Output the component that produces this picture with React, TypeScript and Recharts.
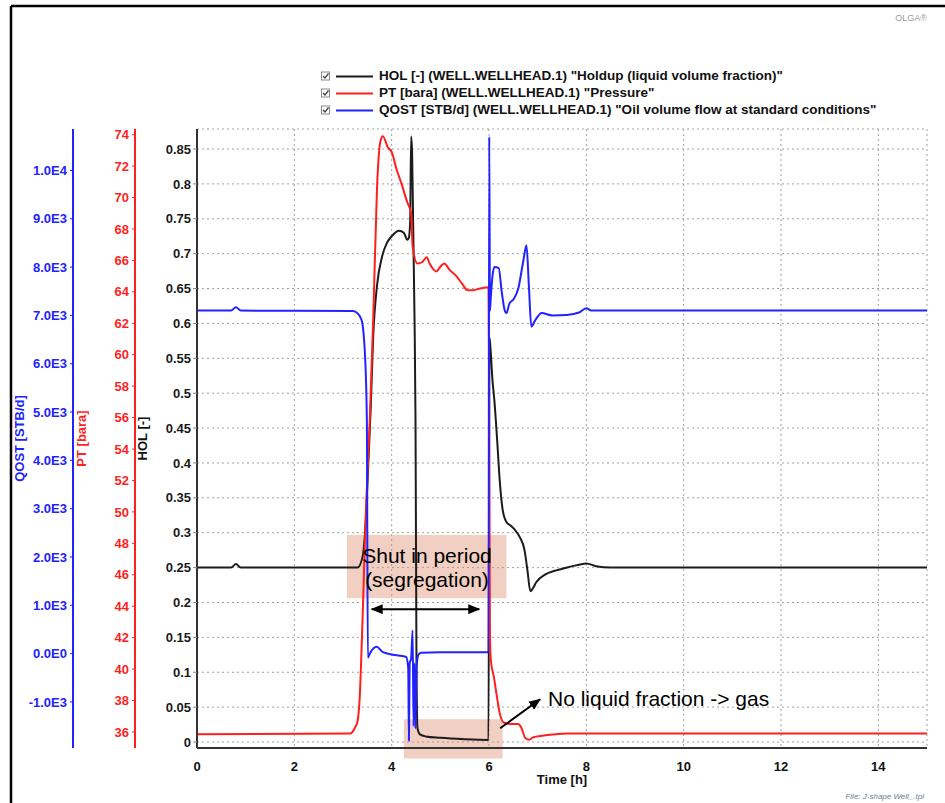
import React from "react";
import {
  ComposedChart, Line, XAxis, YAxis, CartesianGrid, ReferenceArea, ReferenceLine, Legend,
} from "recharts";

const FONT = "'Liberation Sans', Arial, Helvetica, sans-serif";

// time axis [h]
const timeTicks = [0, 2, 4, 6, 8, 10, 12, 14];

// HOL [-] holdup
const holTime = [
  0, 0.7, 0.8, 0.9, 3.3, 3.4, 3.47, 3.52, 3.57, 3.62, 3.7, 3.8, 3.9, 4.0, 4.15, 4.25, 4.32, 4.35,
  4.38, 4.4, 4.42, 4.44, 4.47, 4.49, 4.51, 4.53, 4.58, 4.7, 5.0, 5.5, 5.99, 6.01, 6.03, 6.07, 6.11,
  6.17, 6.22, 6.28, 6.36, 6.45, 6.52, 6.63, 6.73, 6.79, 6.85, 6.9, 6.97, 7.15, 7.38, 7.65, 7.85,
  8.0, 8.2, 8.5, 10, 12, 15,
];
const holValues = [
  0.25, 0.25, 0.255, 0.25, 0.25, 0.265, 0.32, 0.4, 0.48, 0.58, 0.655, 0.695, 0.715, 0.725, 0.733,
  0.73, 0.72, 0.722, 0.745, 0.868, 0.845, 0.749, 0.605, 0.461, 0.113, 0.02, 0.011, 0.008, 0.006,
  0.004, 0.003, 0.58, 0.565, 0.52, 0.49, 0.43, 0.375, 0.333, 0.315, 0.31, 0.305, 0.294, 0.275,
  0.246, 0.216, 0.22, 0.229, 0.24, 0.246, 0.251, 0.254, 0.256, 0.252, 0.25, 0.25, 0.25, 0.25,
];

// PT [bara] pressure
const ptTime = [
  0, 3.15, 3.25, 3.3, 3.34, 3.4, 3.47, 3.55, 3.62, 3.7, 3.77, 3.82, 3.92, 4.0, 4.1, 4.2, 4.32, 4.4,
  4.43, 4.53, 4.63, 4.72, 4.78, 4.92, 5.0, 5.08, 5.19, 5.33, 5.45, 5.56, 5.66, 5.8, 5.99, 6.0, 6.02,
  6.04, 6.1, 6.15, 6.22, 6.3, 6.45, 6.6, 6.66, 6.75, 6.83, 6.9, 7.2, 7.6, 10, 15,
];
const ptValues = [
  35.85, 35.9, 36.3, 36.7, 38.0, 43, 50, 55.8, 62.2, 70.7, 73.6, 73.9, 73.2, 72.9, 71.8, 70.9,
  69.7, 69.0, 66.9, 65.8, 65.9, 66.2, 65.8, 65.3, 65.6, 65.8, 65.4, 65.0, 64.5, 64.1, 64.1, 64.2,
  64.3, 59.0, 42.0, 40.5, 39.5, 38.5, 37.2, 36.6, 36.5, 36.5, 36.3, 35.6, 35.5, 35.65, 35.8, 35.9,
  35.9, 35.9,
];

// QOST [STB/d] oil volume flow
const qostTime = [
  0, 0.7, 0.8, 0.9, 3.2, 3.28, 3.38, 3.45, 3.49, 3.51, 3.55, 3.69, 3.82, 4.1, 4.3, 4.34, 4.355,
  4.37, 4.4, 4.43, 4.45, 4.47, 4.49, 4.51, 4.55, 4.6, 5.0, 5.99, 6.005, 6.02, 6.03, 6.07, 6.11,
  6.2, 6.26, 6.33, 6.36, 6.42, 6.5, 6.6, 6.7, 6.77, 6.82, 6.87, 6.95, 7.08, 7.3, 7.6, 7.85, 8.0,
  8.1, 10, 12, 15,
];
const qostValues = [
  7100, 7100, 7170, 7100, 7090, 7060, 6910, 6220, 4840, -80, 0, 140, 30, -35, -70, -300, -1800,
  -200, -100, 480, -1500, -200, -1550, -300, -20, 20, 30, 30, 10700, 7100, 7260, 7800, 8000, 7980,
  7500, 7080, 7050, 7250, 7330, 7550, 8100, 8450, 7600, 6770, 6900, 7050, 7000, 7010, 7060, 7150,
  7100, 7100, 7100, 7100,
];

const holTicks = [0, 0.05, 0.1, 0.15, 0.2, 0.25, 0.3, 0.35, 0.4, 0.45, 0.5, 0.55, 0.6, 0.65, 0.7, 0.75, 0.8, 0.85];
const ptTicks = [36, 38, 40, 42, 44, 46, 48, 50, 52, 54, 56, 58, 60, 62, 64, 66, 68, 70, 72, 74];
const qostTicks = [-1000, 0, 1000, 2000, 3000, 4000, 5000, 6000, 7000, 8000, 9000, 10000];

const seriesNames = [
  'HOL [-] (WELL.WELLHEAD.1) "Holdup (liquid volume fraction)"',
  'PT [bara] (WELL.WELLHEAD.1) "Pressure"',
  'QOST [STB/d] (WELL.WELLHEAD.1) "Oil volume flow at standard conditions"',
];

const BLACK = "#1c1c1c";
const RED = "#ff1f1f";
const BLUE = "#2222ff";

const zip = (t: number[], v: number[]) => t.map((x, i) => ({ t: x, v: v[i] }));
const holData = zip(holTime, holValues);
const ptData = zip(ptTime, ptValues);
const qostData = zip(qostTime, qostValues);

const fmtE = (v: number) => v.toExponential(1).replace("e+", "E").replace("e-", "E-").toUpperCase();

// eslint-disable-next-line @typescript-eslint/no-explicit-any
const axisTitle = (text: string, color: string, dx: number) => (props: any) => {
  const vb = props.viewBox;
  const x = vb.x + dx;
  const y = vb.y + vb.height / 2;
  return (
    <text x={x} y={y} transform={`rotate(-90 ${x} ${y})`} textAnchor="middle" dominantBaseline="central"
      fill={color} fontSize={13} fontWeight="bold" fontFamily={FONT}>{text}</text>
  );
};

// eslint-disable-next-line @typescript-eslint/no-explicit-any
const timeTitle = (props: any) => {
  const vb = props.viewBox;
  return (
    <text x={vb.x + vb.width / 2} y={vb.y + 36} textAnchor="middle" fill="#111" fontSize={13}
      fontWeight="bold" fontFamily={FONT}>Time [h]</text>
  );
};

// eslint-disable-next-line @typescript-eslint/no-explicit-any
function LegendBox({ payload }: any) {
  return (
    <div style={{ fontFamily: FONT, fontSize: 13.5, fontWeight: "bold", color: "#111" }}>
      {/* eslint-disable-next-line @typescript-eslint/no-explicit-any */}
      {(payload || []).map((item: any) => (
        <div key={item.value} style={{ display: "flex", alignItems: "center", height: 17, whiteSpace: "nowrap" }}>
          <svg width={61} height={14} style={{ flex: "none" }}>
            <rect x={3.5} y={3} width={8} height={8} fill="#fff" stroke="#8a8a8a" />
            <path d="M5 7 L7 9 L10.5 4.5" fill="none" stroke="#444" strokeWidth={1.3} />
            <line x1={18} y1={7.5} x2={55} y2={7.5} stroke={item.color} strokeWidth={2} />
          </svg>
          <span>{item.value}</span>
        </div>
      ))}
    </div>
  );
}

// eslint-disable-next-line @typescript-eslint/no-explicit-any
const arrowShape = (start: boolean) => (props: any) => (
  <line x1={props.x1} y1={props.y1} x2={props.x2} y2={props.y2} stroke="#000" strokeWidth={2}
    markerEnd="url(#arrowHead)" markerStart={start ? "url(#arrowHead)" : undefined} />
);

export default function App() {
  return (
    <div style={{ position: "absolute", left: 0, top: 0, width: 945, height: 803, background: "#fff", fontFamily: FONT }}>
      <ComposedChart width={945} height={803} margin={{ top: 129, right: 18, bottom: 15, left: 0 }}>
        <CartesianGrid xAxisId="x" yAxisId="hol" stroke="#a0a0a0" strokeDasharray="2 3" />
        <XAxis xAxisId="x" type="number" dataKey="t" domain={[0, 15]} ticks={timeTicks} allowDataOverflow
          height={40} tickLine={false} tickMargin={8} axisLine={{ stroke: "#333", strokeWidth: 2 }}
          tick={{ fill: "#111", fontSize: 13, fontWeight: "bold", fontFamily: FONT }} label={timeTitle} />
        <XAxis xAxisId="top" orientation="top" type="number" domain={[0, 15]} height={0} tick={false}
          tickLine={false} axisLine={{ stroke: "#555", strokeWidth: 1.5 }} />
        <YAxis yAxisId="hol" type="number" domain={[-0.0086, 0.8787]} ticks={holTicks} allowDataOverflow
          width={62} tickSize={4} tickMargin={2} tickFormatter={(v: number) => String(v)}
          axisLine={{ stroke: "#333", strokeWidth: 2 }} tickLine={{ stroke: "#888" }}
          tick={{ fill: "#1a1a1a", fontSize: 13, fontWeight: "bold", fontFamily: FONT }}
          label={axisTitle("HOL [-]", "#111", 7)} />
        <YAxis yAxisId="pt" type="number" domain={[34.98, 74.36]} ticks={ptTicks} allowDataOverflow
          width={62} tickSize={3} tickMargin={3} axisLine={{ stroke: RED, strokeWidth: 2 }}
          tickLine={{ stroke: RED }} tick={{ fill: RED, fontSize: 13, fontWeight: "bold", fontFamily: FONT }}
          label={axisTitle("PT [bara]", RED, 8.5)} />
        <YAxis yAxisId="qost" type="number" domain={[-1953, 10858]} ticks={qostTicks} allowDataOverflow
          width={73} tickSize={3} tickMargin={3} tickFormatter={fmtE} axisLine={{ stroke: BLUE, strokeWidth: 2 }}
          tickLine={{ stroke: BLUE }} tick={{ fill: BLUE, fontSize: 13, fontWeight: "bold", fontFamily: FONT }}
          label={axisTitle("QOST [STB/d]", BLUE, 19)} />
        <YAxis yAxisId="right" orientation="right" type="number" domain={[0, 1]} width={0} tick={false}
          tickLine={false} axisLine={{ stroke: "#555", strokeWidth: 2 }} />

        <Line xAxisId="x" yAxisId="hol" data={holData} dataKey="v" name={seriesNames[0]} type="monotone"
          stroke={BLACK} strokeWidth={2} dot={false} isAnimationActive={false} />
        <Line xAxisId="x" yAxisId="pt" data={ptData} dataKey="v" name={seriesNames[1]} type="monotone"
          stroke={RED} strokeWidth={2} dot={false} isAnimationActive={false} />
        <Line xAxisId="x" yAxisId="qost" data={qostData} dataKey="v" name={seriesNames[2]} type="monotone"
          stroke={BLUE} strokeWidth={2} dot={false} isAnimationActive={false} />

        <ReferenceArea xAxisId="x" yAxisId="hol" x1={3.08} x2={6.36} y1={0.206} y2={0.2966}
          fill="rgb(222,140,110)" fillOpacity={0.42} stroke="none" ifOverflow="visible" />
        <ReferenceArea xAxisId="x" yAxisId="hol" x1={4.25} x2={6.28} y1={-0.0237} y2={0.0326}
          fill="rgb(222,140,110)" fillOpacity={0.42} stroke="none" ifOverflow="visible" />
        <ReferenceLine xAxisId="x" yAxisId="hol" segment={[{ x: 3.59, y: 0.1904 }, { x: 5.8, y: 0.1904 }]}
          shape={arrowShape(true)} ifOverflow="visible" />
        <ReferenceLine xAxisId="x" yAxisId="hol" segment={[{ x: 6.23, y: 0.0197 }, { x: 7.05, y: 0.0613 }]}
          shape={arrowShape(false)} ifOverflow="visible" />

        <Legend layout="vertical" align="center" verticalAlign="middle" content={LegendBox}
          wrapperStyle={{ top: 67, left: 318, width: 620 }} />
      </ComposedChart>

      <svg width={945} height={803} style={{ position: "absolute", left: 0, top: 0, pointerEvents: "none" }}>
        <defs>
          <marker id="arrowHead" viewBox="0 0 12 10" refX="11" refY="5" markerWidth="6" markerHeight="5"
            orient="auto-start-reverse">
            <path d="M0,0 L12,5 L0,10 z" fill="#000" />
          </marker>
        </defs>
        <line x1={11} y1={6} x2={945} y2={6} stroke="#000" strokeWidth={2.5} />
        <line x1={11} y1={6} x2={11} y2={803} stroke="#000" strokeWidth={2.5} />
        <text x={927} y={21} textAnchor="end" fontSize={9} fill="#9a9a9a" fontFamily={FONT}>OLGA®</text>
        <text x={427} y={563} textAnchor="middle" fontSize={21} fill="#000" fontFamily={FONT}>Shut in period</text>
        <text x={427} y={587} textAnchor="middle" fontSize={21} fill="#000" fontFamily={FONT}>(segregation)</text>
        <text x={548} y={706} fontSize={21} fill="#000" fontFamily={FONT}>No liquid fraction -&gt; gas</text>
        <text x={924} y={799} textAnchor="end" fontSize={8} fontStyle="italic" fill="#6f7d92" fontFamily={FONT}>
          File: J-shape Well_.tpl
        </text>
      </svg>
    </div>
  );
}
